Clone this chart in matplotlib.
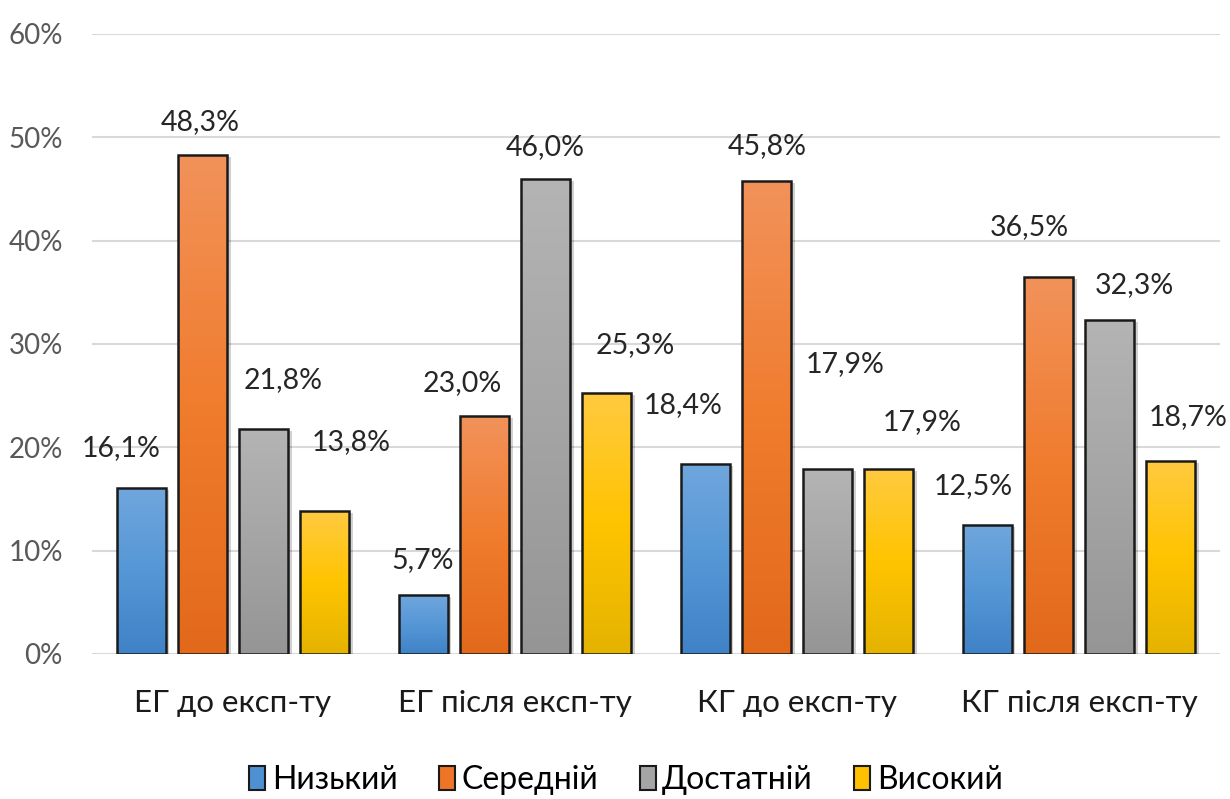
import matplotlib
matplotlib.use("Agg")
import matplotlib.pyplot as plt
import matplotlib.patheffects as pe
import numpy as np
from matplotlib.colors import LinearSegmentedColormap
from matplotlib.patches import Patch
from matplotlib import font_manager

# ---- data -------------------------------------------------------------
categories = ["ЕГ до експ-ту", "ЕГ після експ-ту", "КГ до експ-ту", "КГ після експ-ту"]
levels = ["Низький", "Середній", "Достатній", "Високий"]
low = [16.1, 5.7, 18.4, 12.5]
medium = [48.3, 23.0, 45.8, 36.5]
sufficient = [21.8, 46.0, 17.9, 32.3]
high = [13.8, 25.3, 17.9, 18.7]
y_ticks = [0, 10, 20, 30, 40, 50, 60]

series = [low, medium, sufficient, high]

# ---- styling ------------------------------------------------------------
# (top, middle, bottom) colours of each series' vertical gradient
gradients = [
    ("#70a6dd", "#5597d6", "#3f82c6"),
    ("#f2925a", "#f07c2e", "#e2691b"),
    ("#b4b4b4", "#a5a5a5", "#959595"),
    ("#ffca40", "#ffc400", "#e4b300"),
]
legend_colors = ["#4f90d2", "#ee7428", "#a5a5a5", "#ffc000"]

# label offsets from each bar's top centre, in pixels (dx, dy)
label_offsets = [
    [(-20, 40), (-1, 35), (-22, 59), (-14, 39)],
    [(-2, 33), (-22, 33), (1, 35), (-19, 50)],
    [(20, 49), (0, 32), (18, 105), (25, 35)],
    [(26, 69), (28, 48), (33, 47), (17, 44)],
]

installed = {f.name for f in font_manager.fontManager.ttflist}
family = next((f for f in ["Lato", "Roboto", "Open Sans", "DejaVu Sans"] if f in installed), "DejaVu Sans")
plt.rcParams["font.family"] = [family, "DejaVu Sans"]

fig = plt.figure(figsize=(12.3, 7.99), dpi=100)
ax = fig.add_axes([92 / 1230, 1 - 654 / 799, (1220 - 92) / 1230, (654 - 34) / 799])

x = np.arange(len(categories))
step = 0.217
width = 0.175

for i, (vals, grad) in enumerate(zip(series, gradients)):
    xs = x + (i - 1.5) * step
    cmap = LinearSegmentedColormap.from_list(f"g{i}", [grad[2], grad[1], grad[0]])
    # soft drop shadow
    ax.bar(xs, vals, width, color="none", edgecolor="none", zorder=1.5,
           path_effects=[pe.SimplePatchShadow(offset=(2.5, -1.5), shadow_rgbFace="#000000", alpha=0.18)])
    bars = ax.bar(xs, vals, width, color="none", edgecolor="#1a1a1a", linewidth=1.8, zorder=3)
    for bar in bars:
        x0, y0 = bar.get_x(), bar.get_y()
        w, h = bar.get_width(), bar.get_height()
        grad_img = np.linspace(0, 1, 256).reshape(-1, 1)
        im = ax.imshow(grad_img, cmap=cmap, origin="lower", aspect="auto",
                       extent=(x0, x0 + w, y0, y0 + h), zorder=2, interpolation="bilinear")
        im.set_clip_path(bar)
    for j, (xv, v) in enumerate(zip(xs, vals)):
        dx, dy = label_offsets[i][j]
        ax.annotate(f"{v:.1f}%".replace(".", ","), (xv, v), xytext=(dx, dy),
                    textcoords="offset pixels", ha="center", va="center",
                    fontsize=20.5, color="#262626", zorder=4)

ax.set_xlim(-0.5, 3.5)
ax.set_ylim(0, 60)
ax.set_yticks(y_ticks)
ax.set_yticklabels([f"{t}%" for t in y_ticks])
ax.set_xticks(x)
ax.set_xticklabels(categories)
ax.tick_params(axis="y", length=0, pad=21, labelsize=20, labelcolor="#595959")
ax.tick_params(axis="x", length=0, pad=25, labelsize=22.5, labelcolor="#1a1a1a")
ax.grid(axis="y", color="#d9d9d9", linewidth=1.5, zorder=0)
ax.set_axisbelow(True)
for s in ax.spines.values():
    s.set_visible(False)

handles = [Patch(facecolor=c, edgecolor="#1a1a1a", linewidth=1.5, label=l)
           for c, l in zip(legend_colors, levels)]
fig.legend(handles=handles, loc="center", bbox_to_anchor=(626 / 1230, 1 - 780 / 799),
           ncol=4, frameon=False, fontsize=23, handlelength=0.5, handleheight=0.8,
           handletextpad=0.2, columnspacing=1.3)

fig.savefig("out.png", dpi=100)
